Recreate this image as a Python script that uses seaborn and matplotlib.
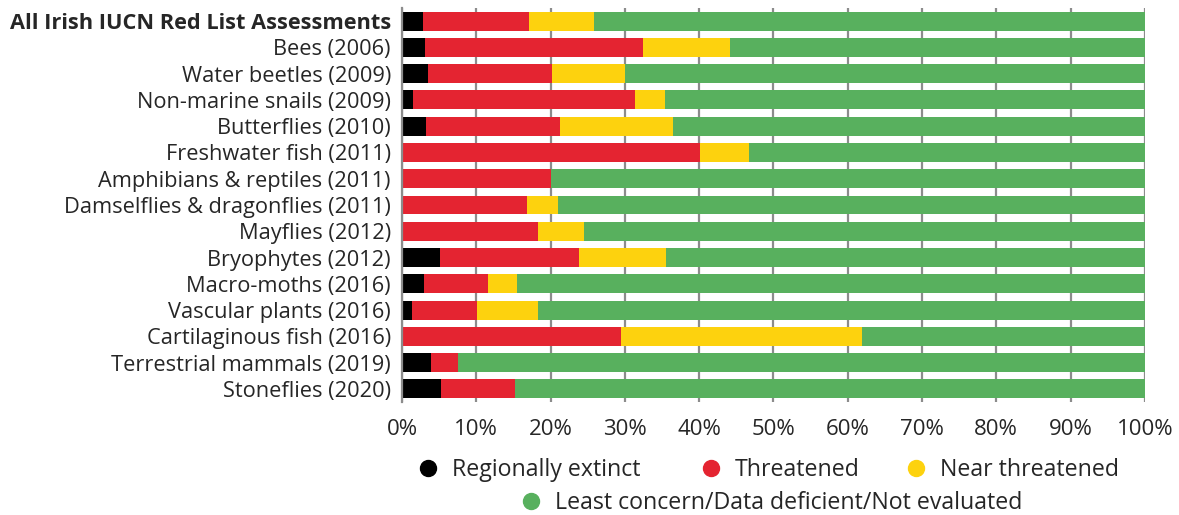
import matplotlib
matplotlib.use("Agg")
import matplotlib.pyplot as plt
from matplotlib.lines import Line2D
import numpy as np
import pandas as pd
import seaborn as sns

# Red List assessments, share of species (%) in each status
groups = [
    "All Irish IUCN Red List Assessments",
    "Bees (2006)",
    "Water beetles (2009)",
    "Non-marine snails (2009)",
    "Butterflies (2010)",
    "Freshwater fish (2011)",
    "Amphibians & reptiles (2011)",
    "Damselflies & dragonflies (2011)",
    "Mayflies (2012)",
    "Bryophytes (2012)",
    "Macro-moths (2016)",
    "Vascular plants (2016)",
    "Cartilaginous fish (2016)",
    "Terrestrial mammals (2019)",
    "Stoneflies (2020)",
]
regionally_extinct = [2.8, 3.1, 3.5, 1.5, 3.2, 0.0, 0.0, 0.0, 0.0, 5.1, 3.0, 1.3, 0.0, 3.9, 5.2]
threatened = [14.3, 29.3, 16.7, 29.9, 18.1, 40.1, 20.0, 16.8, 18.3, 18.7, 8.6, 8.8, 29.5, 3.6, 10.0]
near_threatened = [8.7, 11.8, 9.8, 4.0, 15.2, 6.6, 0.0, 4.2, 6.2, 11.7, 3.9, 8.2, 32.4, 0.0, 0.0]
least_concern = [100 - a - b - c for a, b, c in zip(regionally_extinct, threatened, near_threatened)]

series_names = [
    "Regionally extinct",
    "Threatened",
    "Near threatened",
    "Least concern/Data deficient/Not evaluated",
]
colors = ["#000000", "#E42431", "#FDD20E", "#58B05E"]

df = pd.DataFrame({
    "group": groups,
    series_names[0]: regionally_extinct,
    series_names[1]: threatened,
    series_names[2]: near_threatened,
    series_names[3]: least_concern,
})
# running totals for stacking
cum = df[series_names].cumsum(axis=1)

sns.set_theme(style="white")
plt.rcParams["font.family"] = ["Open Sans", "DejaVu Sans"]

fig = plt.figure(figsize=(11.79, 5.15), dpi=100)
ax = fig.add_axes([0.341, 0.2194, 0.630, 0.7651])

# widest segment first so shorter totals sit on top
for name, col in reversed(list(zip(series_names, colors))):
    sns.barplot(x=cum[name], y=df["group"], orient="h", color=col,
                width=0.72, saturation=1, linewidth=0, ax=ax, zorder=2)

ax.set_xlim(0, 100)
ax.set_ylim(14.5, -0.5)
ax.set_xticks(np.arange(0, 101, 10))
ax.set_xticklabels([f"{v}%" for v in range(0, 101, 10)], fontsize=16)
ax.set_xlabel("")
ax.set_ylabel("")
ax.tick_params(axis="y", labelsize=15.7, length=0, pad=8)
ax.tick_params(axis="x", length=0, pad=12)
ax.get_yticklabels()[0].set_fontweight("bold")

ax.grid(axis="x", color="#8c8c8c", linewidth=1.6, zorder=0)
ax.set_axisbelow(True)
for s in ["top", "right", "bottom"]:
    ax.spines[s].set_visible(False)
ax.spines["left"].set_color("#8c8c8c")
ax.spines["left"].set_linewidth(1.6)

def handle(c):
    return Line2D([], [], marker="o", linestyle="", markersize=11.5,
                  markerfacecolor=c, markeredgecolor=c)

# one legend entry per status, placed in a two-row layout under the axis
W, H = 1179, 515
fs = 16.7
hl = 0.7
legend_spots = [(428, 470), (711, 470), (916, 470), (531, 503)]
for name, col, (mx, my) in zip(series_names, colors, legend_spots):
    half = hl * fs * 100 / 72 / 2
    fig.legend([handle(col)], [name], loc="center left",
               bbox_to_anchor=((mx - half) / W, 1 - my / H),
               frameon=False, fontsize=fs, handletextpad=0.68,
               handlelength=hl, borderpad=0, borderaxespad=0)

fig.savefig("out.png", dpi=100)
